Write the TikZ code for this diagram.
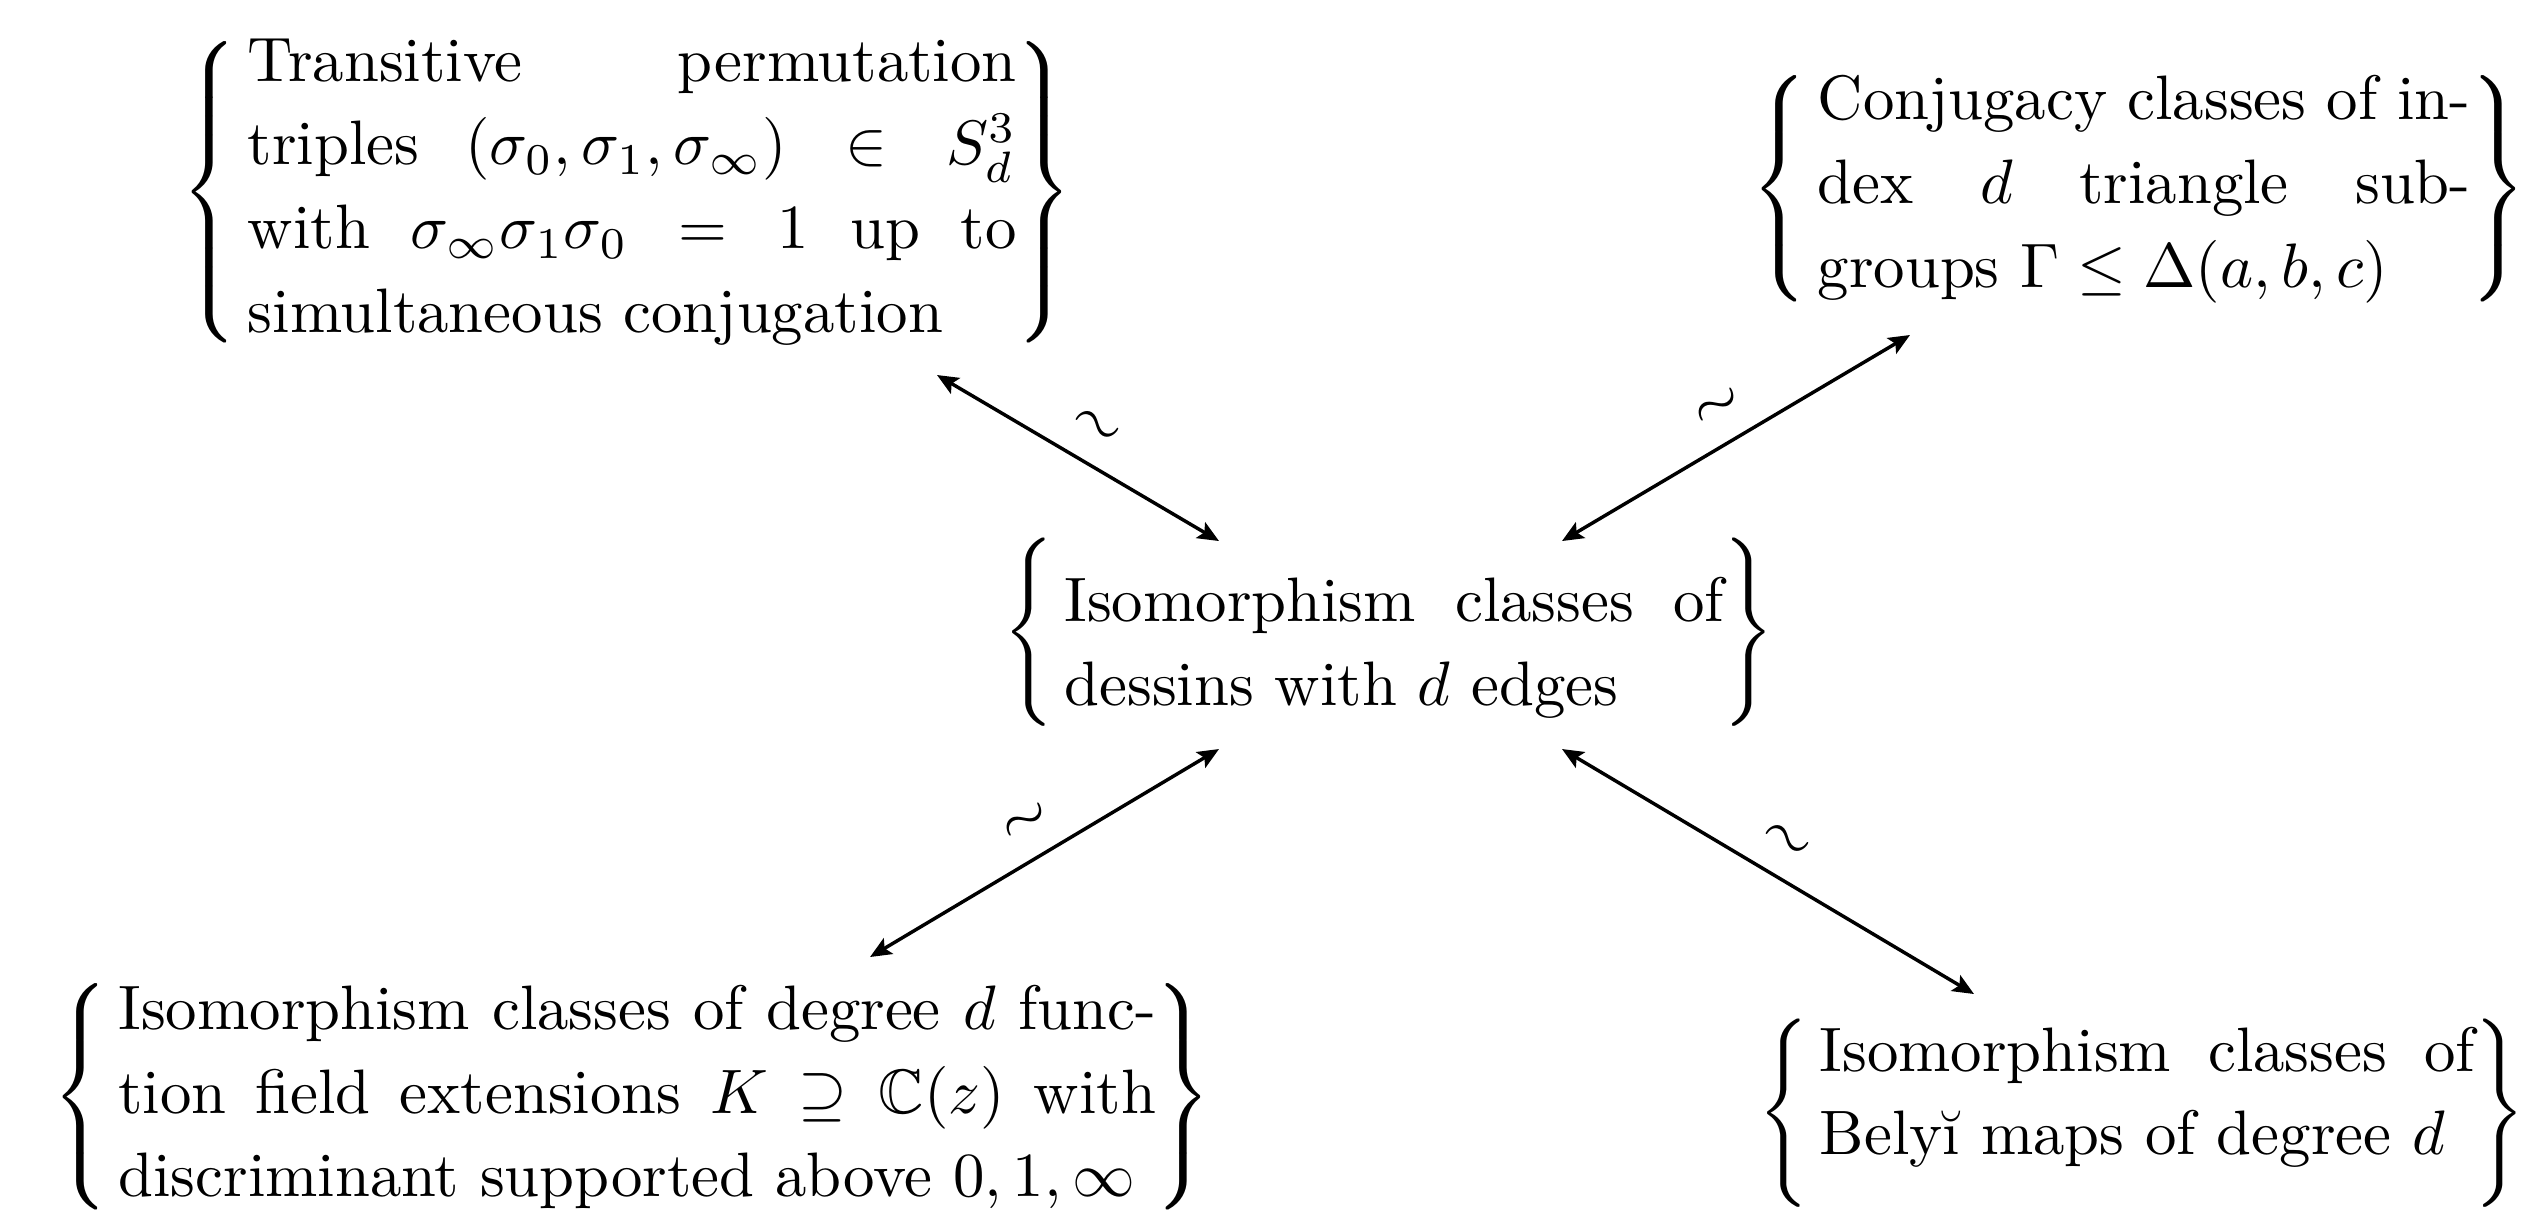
\documentclass[tikz,border=0pt]{standalone}
\usepackage{amssymb}
\usetikzlibrary{arrows.meta,calc}
\newcommand{\bracebox}[3][0pt]{$\left\{\,\lower#1\hbox{\parbox{#2}{\fontsize{10}{13.35}\selectfont\tolerance=10000\hyphenpenalty=10000\relax #3}}\right\}$}
\tikzset{
  setbox/.style={inner sep=0pt, outer sep=0pt, anchor=center},
  iso/.style={line width=0.55pt, {Stealth[length=3.4pt,width=2.9pt,inset=0.7pt]}-{Stealth[length=3.4pt,width=2.9pt,inset=0.7pt]}},
  tildelab/.style={midway, sloped, above=3.4pt, inner sep=0pt, font=\fontsize{10}{12}\selectfont}
}
\begin{document}
\begin{tikzpicture}[x=0.15924pt, y=-0.15924pt]
\useasboundingbox (0,0) rectangle (2525,1213);
\node[setbox] (TL) at (627,192) {\bracebox{122.4pt}{Transitive permutation\linebreak triples $(\sigma_0,\sigma_1,\sigma_\infty) \in S_d^3$\linebreak with $\sigma_\infty\sigma_1\sigma_0 = 1$ up to\linebreak simultaneous conjugation}};
\node[setbox] (TR) at (2139,189) {\bracebox{104pt}{Conjugacy classes of in-\linebreak dex $d$ triangle sub-\linebreak groups $\Gamma \le \Delta(a,b,c)$}};
\node[setbox] (C) at (1389,632) {\bracebox[2.5pt]{105pt}{Isomorphism classes of\linebreak dessins with $d$ edges}};
\node[setbox] (BL) at (632,1097) {\bracebox{165.2pt}{Isomorphism classes of degree $d$ func-\linebreak tion field extensions $K \supseteq \mathbb{C}(z)$ with\linebreak discriminant supported above $0,1,\infty$}};
\node[setbox] (BR) at (2142,1113) {\bracebox[-2.5pt]{104.3pt}{Isomorphism classes of\linebreak Belyĭ maps of degree $d$}};
\draw[iso] ($(TL)+(310,183)$) -- ($(C)+(-170,-91)$) node[tildelab] {$\sim$};
\draw[iso] ($(TR)+(-229,146)$) -- ($(C)+(173,-91)$) node[tildelab] {$\sim$};
\draw[iso] ($(C)+(-170,117)$) -- ($(BL)+(238,-140)$) node[tildelab] {$\sim$};
\draw[iso] ($(C)+(173,117)$) -- ($(BR)+(-168,-119)$) node[tildelab] {$\sim$};
\end{tikzpicture}
\end{document}
